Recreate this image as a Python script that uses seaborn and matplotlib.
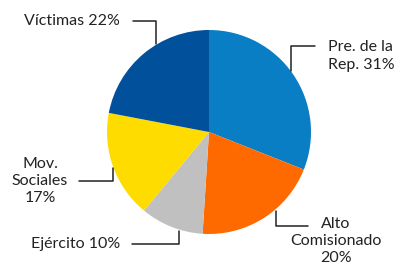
import matplotlib
matplotlib.use("Agg")
import matplotlib.pyplot as plt
import seaborn as sns

labels = ["Pre. de la\nRep. 31%", "Alto\nComisionado\n20%", "Ejército 10%", "Mov.\nSociales\n17%", "Víctimas 22%"]
values = [31, 20, 10, 17, 22]
colors = ["#0A7EC4", "#FF6A00", "#C0C0C0", "#FFDC00", "#00509C"]

sns.set_theme(style="white")
plt.rcParams["font.family"] = ["Lato", "DejaVu Sans"]

W, H = 403, 268
fig = plt.figure(figsize=(W / 100, H / 100), dpi=100)
ax = fig.add_axes([0, 0, 1, 1])

# pie centre / radius in pixel space (y measured from top)
cx, cy, r = 209, 132, 102
ax.pie(values, colors=colors, startangle=90, counterclock=False,
       center=(cx, H - cy), radius=r, frame=True,
       wedgeprops=dict(linewidth=0))
ax.set_xlim(0, W)
ax.set_ylim(0, H)
ax.set_aspect("equal")
ax.axis("off")

# label positions and leader lines (pixel coords from top-left)
label_pos = [
    (328, 56, "left"),
    (336, 241, "center"),
    (76, 244, "center"),
    (40, 181, "center"),
    (72, 21, "center"),
]
leaders = [
    [(315, 46), (291, 46), (291, 71)],
    [(308, 226), (276, 226), (276, 211)],
    [(132, 244), (179, 244), (179, 231)],
    [(79, 181), (113, 181), (113, 168)],
    [(133, 21), (156, 21), (156, 44)],
]

for lab, (x, y, ha), pts in zip(labels, label_pos, leaders):
    ax.text(x, H - y, lab, ha=ha, va="center", fontsize=11.5,
            color="#222222", linespacing=1.3, multialignment=ha)
    ax.plot([p[0] for p in pts], [H - p[1] for p in pts], color="#222222", lw=1.1)

fig.savefig("out.png", dpi=100)
